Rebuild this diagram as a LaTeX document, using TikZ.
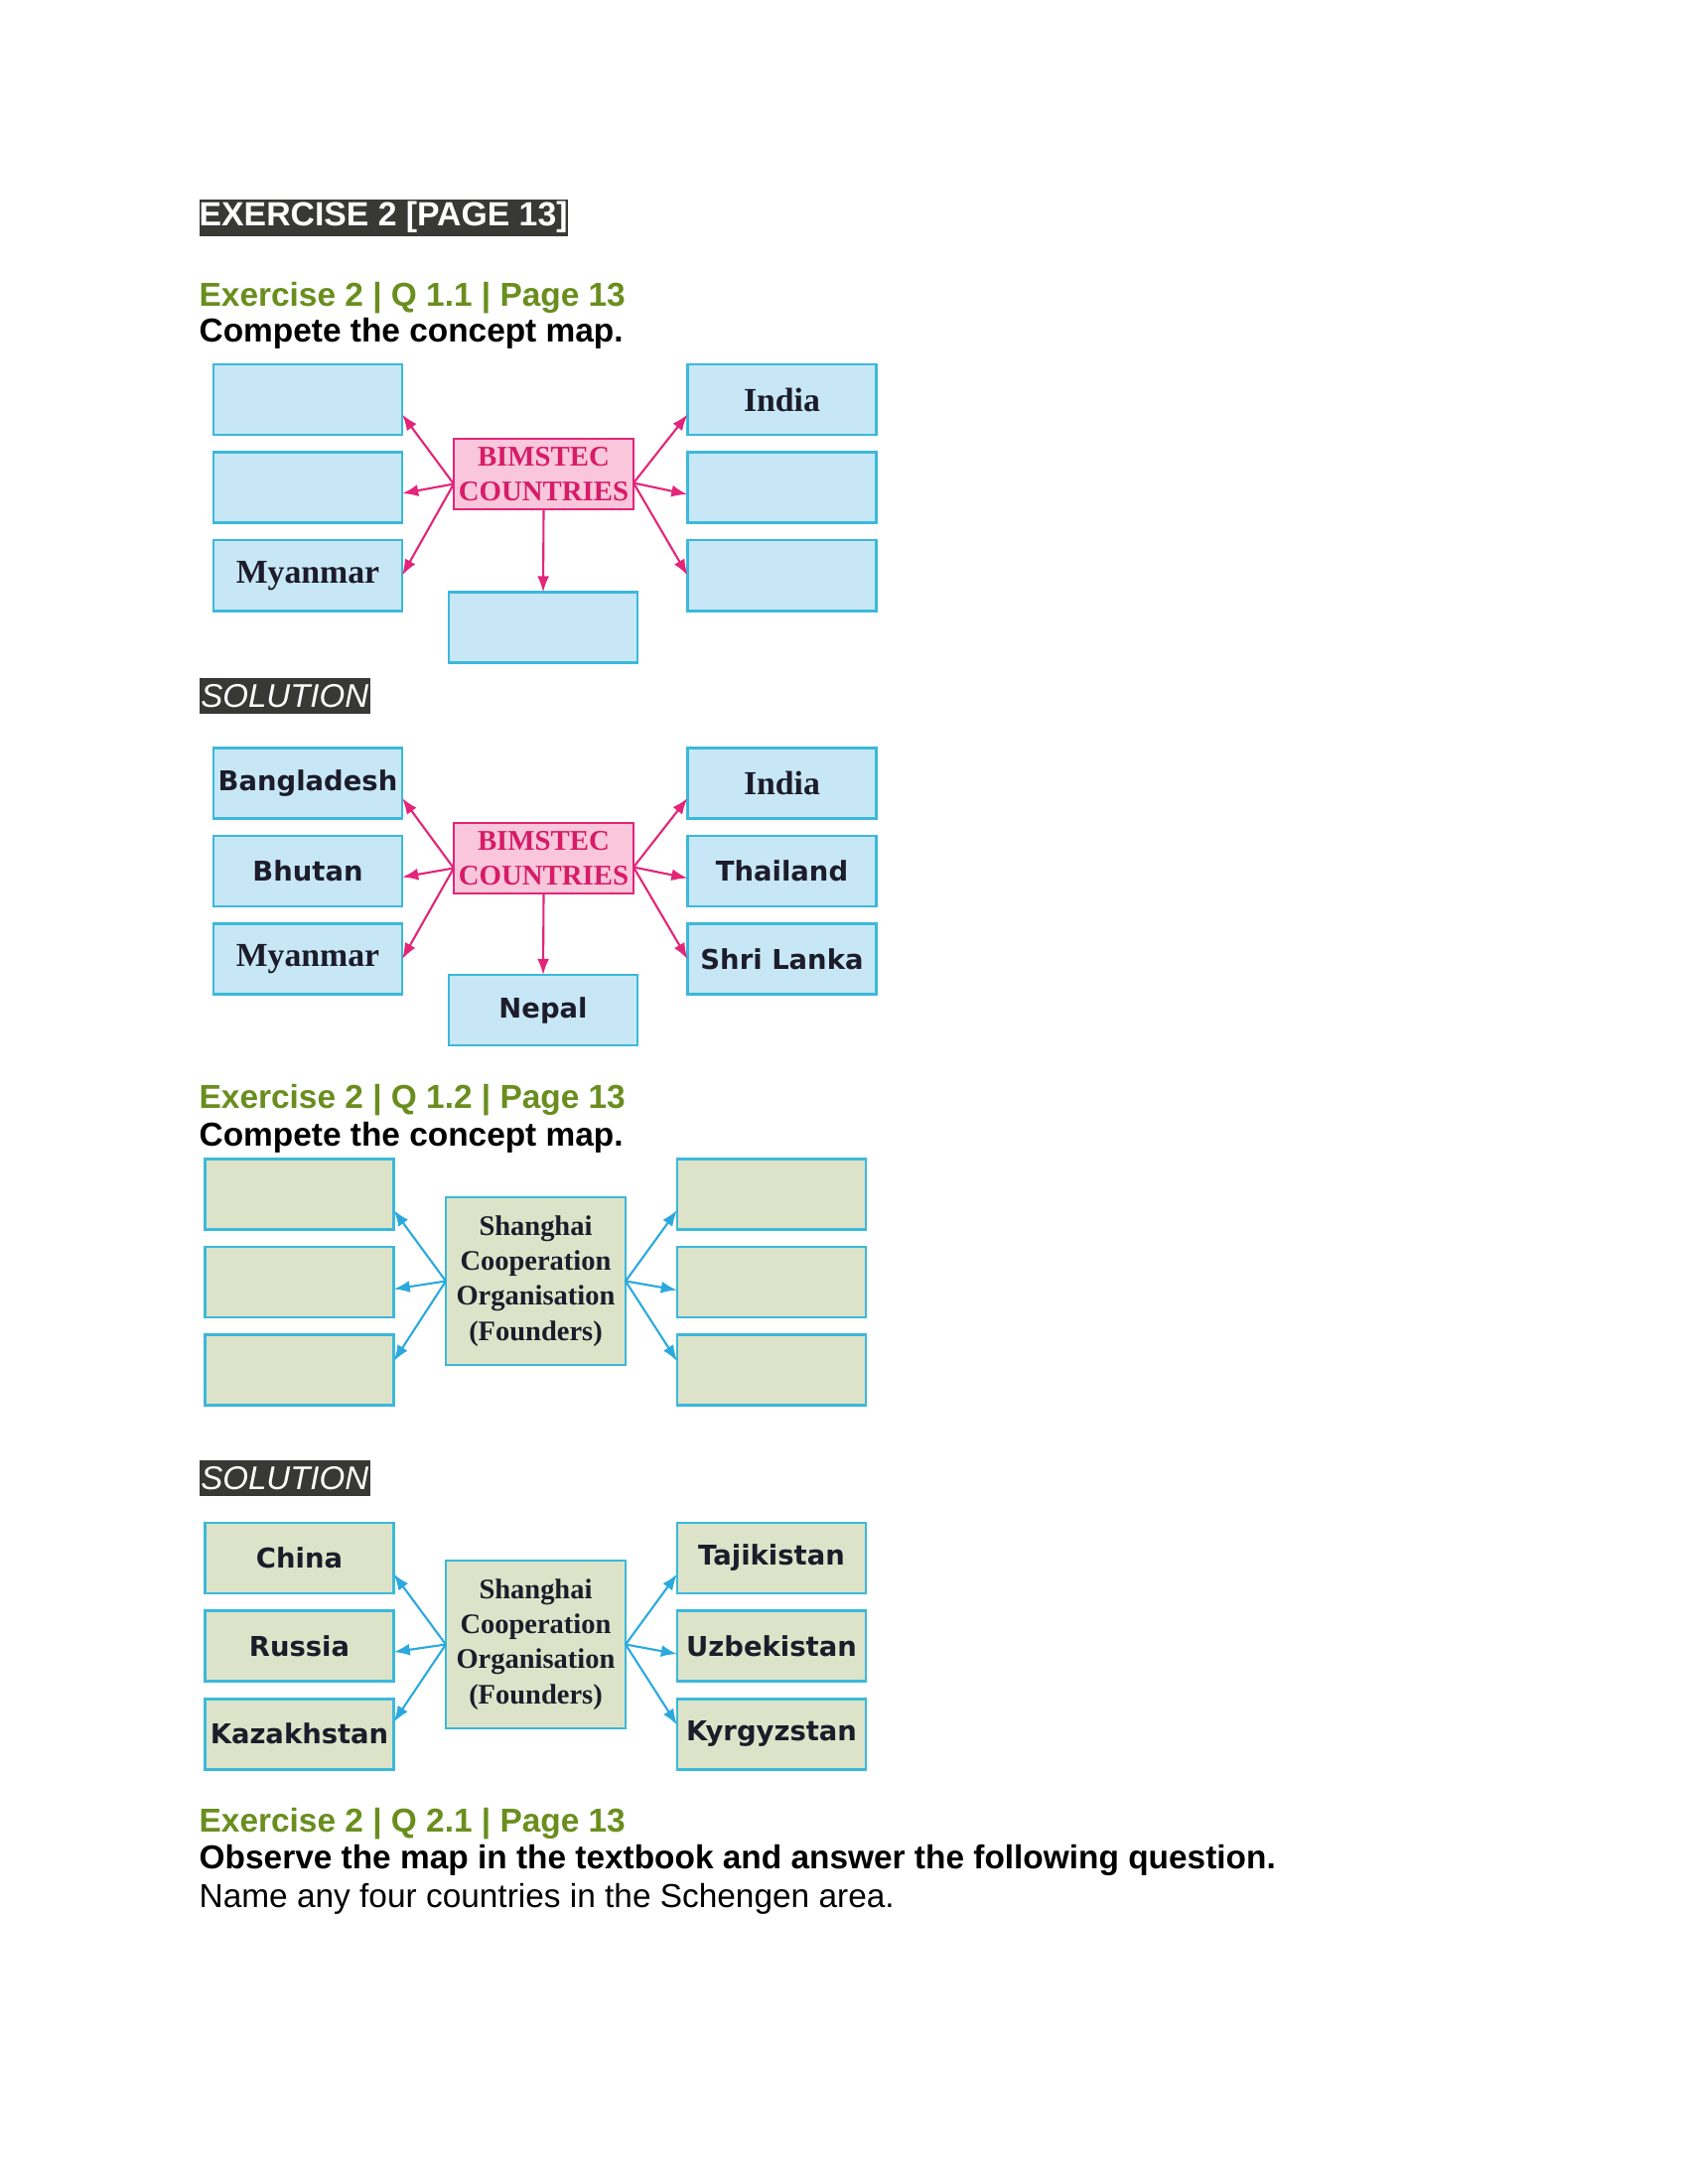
\documentclass[tikz,border=0pt]{standalone}
\usepackage{fontspec}
\setmainfont{Liberation Sans}
\newfontfamily\serifa{Liberation Serif}
\newfontfamily\dejavu{DejaVu Sans}
\usepackage{xcolor}
\usetikzlibrary{arrows.meta,positioning,calc}
\definecolor{tinta}{HTML}{1C1C2A}
\definecolor{banda}{HTML}{383835}
\definecolor{verde}{HTML}{6A8E1E}
\definecolor{celeste}{HTML}{C8E7F6}
\definecolor{bordeCel}{HTML}{3BB9DA}
\definecolor{rosaFondo}{HTML}{F9C6DC}
\definecolor{rosa}{HTML}{E3257A}
\definecolor{rosaTexto}{HTML}{D61C68}
\definecolor{oliva}{HTML}{DCE3C9}
\definecolor{azul}{HTML}{2BA9DE}

\begin{document}
\begin{tikzpicture}[x=0.01cm,y=-0.01cm,
    caja/.style={draw=bordeCel,line width=0.8pt,fill=celeste,outer sep=0pt,
                 minimum width=1.9cm,minimum height=0.71cm,inner sep=0pt,
                 font=\dejavu\bfseries\fontsize{7.8}{10}\selectfont\color{tinta}},
    cajaser/.style={caja,font=\serifa\bfseries\fontsize{9.6}{11}\selectfont\color{tinta}},
    cajasco/.style={caja,fill=oliva},
    bim/.style={draw=rosa,line width=0.8pt,fill=rosaFondo,outer sep=0pt,
                minimum width=1.81cm,minimum height=0.71cm,inner sep=0pt,align=center,
                font=\serifa\bfseries\fontsize{8.2}{10}\selectfont\color{rosaTexto}},
    sco/.style={draw=bordeCel,line width=0.8pt,fill=oliva,outer sep=0pt,
                minimum width=1.81cm,minimum height=1.69cm,inner sep=0pt,align=center,
                font=\serifa\bfseries\fontsize{8.1}{10}\selectfont\color{tinta}},
    banda/.style={fill=banda,text=white,inner sep=0pt,anchor=north west,
                  font=\bfseries\fontsize{9.6}{11}\selectfont},
    titulo/.style={anchor=base west,inner sep=0pt,
                   font=\bfseries\fontsize{9.5}{11}\selectfont\color{verde}},
    texto/.style={anchor=base west,inner sep=0pt,font=\fontsize{9.5}{11}\selectfont},
    fr/.style={-{Latex[length=4.6pt,width=3.4pt]},rosa,line width=0.6pt},
    fa/.style={-{Latex[length=4.6pt,width=3.4pt]},azul,line width=0.6pt},
    node distance=0.175cm]
  \fill[white] (0,0) rectangle (1700,2200);
  \useasboundingbox (0,0) rectangle (1700,2200);

  % cabecera
  \node[banda,minimum width=3.69cm,minimum height=0.37cm] (ejer) at (200,200)
    {EXERCISE 2 [PAGE 13]};

  % Q 1.1
  \node[titulo] (t1) at (200,308) {Exercise 2 | Q 1.1 | Page 13};
  \node[texto,font=\bfseries\fontsize{9.5}{11}\selectfont] (p1) at (200,344)
    {Compete the concept map.};
  \node[bim] (bim1) at (547.5,477.5) {BIMSTEC\\COUNTRIES};
  \node[caja] (a1) at (310,402.5) {};
  \node[caja,below=of a1] (a2) {};
  \node[cajaser,below=of a2] (a3) {Myanmar};
  \node[cajaser] (b1) at (787.5,402.5) {India};
  \node[caja,below=of b1] (b2) {};
  \node[caja,below=of b2] (b3) {};
  \node[caja] (c1) at (547,632) {};
  \draw[fr] ($(bim1.west)+(0,10)$) -- ($(a1.east)+(0,15)$);
  \draw[fr] ($(bim1.west)+(0,10)$) -- ($(a2.east)+(0,6)$);
  \draw[fr] ($(bim1.west)+(0,10)$) -- ($(a3.east)+(0,0)$);
  \draw[fr] ($(bim1.east)+(0,9)$) -- ($(b1.west)+(0,15)$);
  \draw[fr] ($(bim1.east)+(0,9)$) -- ($(b2.west)+(0,7)$);
  \draw[fr] ($(bim1.east)+(0,9)$) -- ($(b3.west)+(0,0)$);
  \draw[fr] (bim1.south) -- (c1.north);

  % solucion 1
  \node[banda,minimum width=1.72cm,minimum height=0.36cm,
        font=\itshape\fontsize{9.4}{11}\selectfont] (sol1) at (200,682) {SOLUTION};
  \node[bim] (bim2) at (547.5,864.5) {BIMSTEC\\COUNTRIES};
  \node[caja] (d1) at (310,789) {Bangladesh};
  \node[caja,below=of d1] (d2) {Bhutan};
  \node[cajaser,below=of d2] (d3) {Myanmar};
  \node[cajaser] (e1) at (787.5,789) {India};
  \node[caja,below=of e1] (e2) {Thailand};
  \node[caja,below=of e2] (e3) {Shri Lanka};
  \node[caja] (nepal) at (547,1017.5) {Nepal};
  \draw[fr] ($(bim2.west)+(0,10)$) -- ($(d1.east)+(0,15)$);
  \draw[fr] ($(bim2.west)+(0,10)$) -- ($(d2.east)+(0,6)$);
  \draw[fr] ($(bim2.west)+(0,10)$) -- ($(d3.east)+(0,0)$);
  \draw[fr] ($(bim2.east)+(0,9)$) -- ($(e1.west)+(0,15)$);
  \draw[fr] ($(bim2.east)+(0,9)$) -- ($(e2.west)+(0,7)$);
  \draw[fr] ($(bim2.east)+(0,9)$) -- ($(e3.west)+(0,0)$);
  \draw[fr] (bim2.south) -- (nepal.north);

  % Q 1.2
  \node[titulo] (t2) at (200,1116) {Exercise 2 | Q 1.2 | Page 13};
  \node[texto,font=\bfseries\fontsize{9.5}{11}\selectfont] (p2) at (200,1154)
    {Compete the concept map.};
  \node[sco] (sco1) at (539.5,1290.5)
    {Shanghai\\Cooperation\\Organisation\\(Founders)};
  \node[cajasco] (f1) at (301.5,1203) {};
  \node[cajasco,below=of f1] (f2) {};
  \node[cajasco,below=of f2] (f3) {};
  \node[cajasco] (g1) at (777,1203) {};
  \node[cajasco,below=of g1] (g2) {};
  \node[cajasco,below=of g2] (g3) {};
  \draw[fa] (sco1.west) -- ($(f1.east)+(0,16)$);
  \draw[fa] (sco1.west) -- ($(f2.east)+(0,7)$);
  \draw[fa] (sco1.west) -- ($(f3.east)+(0,-9)$);
  \draw[fa] (sco1.east) -- ($(g1.west)+(0,16)$);
  \draw[fa] (sco1.east) -- ($(g2.west)+(0,8)$);
  \draw[fa] (sco1.east) -- ($(g3.west)+(0,-9)$);

  % solucion 2
  \node[banda,minimum width=1.72cm,minimum height=0.36cm,
        font=\itshape\fontsize{9.4}{11}\selectfont] (sol2) at (200,1470) {SOLUTION};
  \node[sco] (sco2) at (539.5,1656.5)
    {Shanghai\\Cooperation\\Organisation\\(Founders)};
  \node[cajasco] (h1) at (301.5,1569.5) {China};
  \node[cajasco,below=of h1] (h2) {Russia};
  \node[cajasco,below=of h2] (h3) {Kazakhstan};
  \node[cajasco] (k1) at (777,1569.5) {Tajikistan};
  \node[cajasco,below=of k1] (k2) {Uzbekistan};
  \node[cajasco,below=of k2] (k3) {Kyrgyzstan};
  \draw[fa] (sco2.west) -- ($(h1.east)+(0,16)$);
  \draw[fa] (sco2.west) -- ($(h2.east)+(0,6)$);
  \draw[fa] (sco2.west) -- ($(h3.east)+(0,-12)$);
  \draw[fa] (sco2.east) -- ($(k1.west)+(0,16)$);
  \draw[fa] (sco2.east) -- ($(k2.west)+(0,8)$);
  \draw[fa] (sco2.east) -- ($(k3.west)+(0,-9)$);

  % Q 2.1
  \node[titulo] (t3) at (200,1845) {Exercise 2 | Q 2.1 | Page 13};
  \node[texto,font=\bfseries\fontsize{9.5}{11}\selectfont] (p3) at (200,1882)
    {Observe the map in the textbook and answer the following question.};
  \node[texto] (r3) at (200,1921) {Name any four countries in the Schengen area.};
\end{tikzpicture}
\end{document}
